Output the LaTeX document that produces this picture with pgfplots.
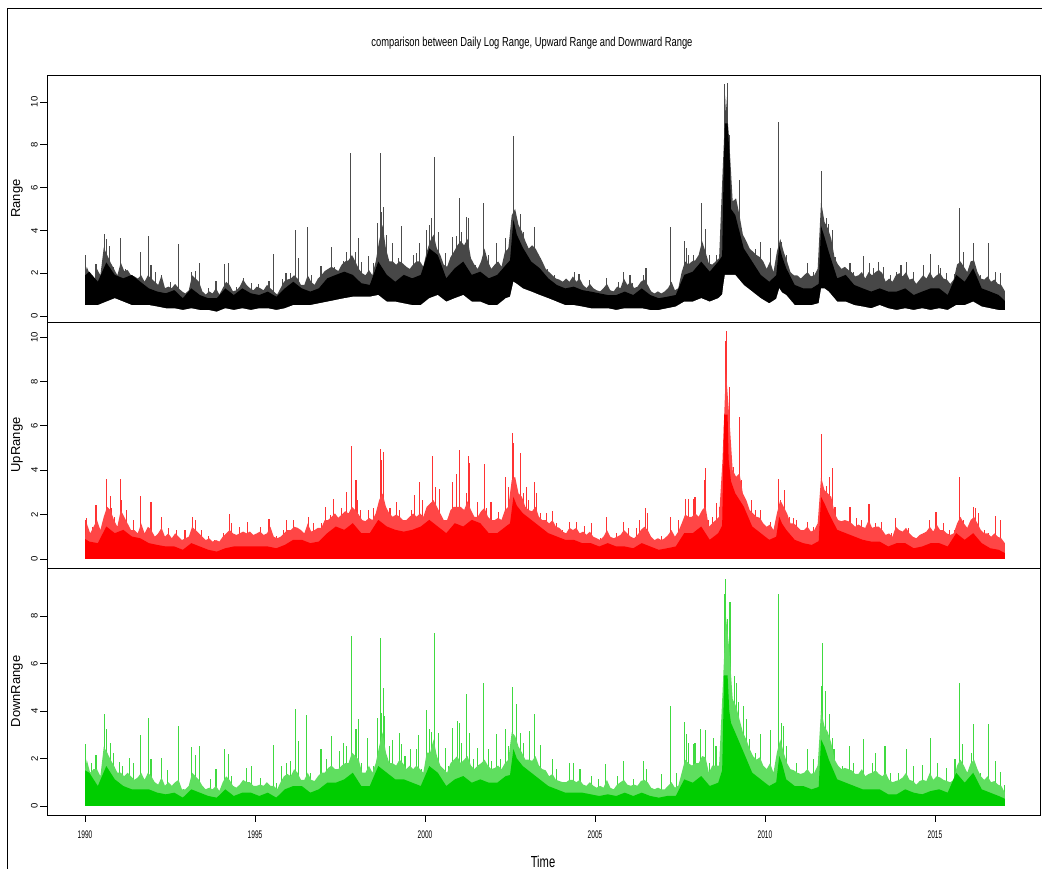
\documentclass[border=0pt]{standalone}
\usepackage{fontspec}
\setmainfont{Liberation Sans}
\usepackage{pgfplots}
\pgfplotsset{compat=1.18}
\usepackage{pgfplotstable}
\definecolor{rgreen}{RGB}{0,205,0}
\definecolor{rgreenl}{RGB}{95,222,95}
\definecolor{redl}{RGB}{255,70,70}

% ---------------- Range (black) : lower / upper edge of the dense band
\pgfplotstableread{
t lo hi
1990.00 0.51 1.90
1990.125 0.51 2.07
1990.375 0.51 1.60
1990.625 0.67 2.50
1990.875 0.83 1.92
1991.125 0.67 1.76
1991.375 0.51 1.92
1991.625 0.51 1.60
1991.875 0.51 1.29
1992.125 0.44 1.14
1992.375 0.36 1.06
1992.625 0.36 1.21
1992.875 0.28 0.83
1993.125 0.36 1.29
1993.375 0.28 0.98
1993.625 0.28 0.83
1993.875 0.20 0.83
1994.125 0.36 1.29
1994.375 0.28 0.98
1994.625 0.36 1.29
1994.875 0.28 1.06
1995.125 0.36 0.98
1995.375 0.36 1.14
1995.625 0.28 0.90
1995.875 0.36 1.29
1996.125 0.51 1.60
1996.375 0.51 1.29
1996.625 0.51 1.14
1996.875 0.59 1.29
1997.125 0.67 1.76
1997.375 0.75 1.92
1997.625 0.83 2.07
1997.875 0.90 1.92
1998.125 0.90 1.53
1998.375 0.90 1.45
1998.625 0.98 2.54
1998.875 0.67 1.92
1999.125 0.67 1.60
1999.375 0.59 1.92
1999.625 0.51 1.76
1999.875 0.51 1.92
2000.125 0.83 3.16
2000.375 0.98 2.85
2000.625 0.67 1.76
2000.875 0.83 2.23
2001.125 0.98 2.54
2001.375 0.67 1.92
2001.625 0.67 2.07
2001.875 0.51 1.76
2002.125 0.51 1.92
2002.375 0.83 2.38
2002.50 0.90 2.60
2002.60 1.60 4.50
2002.70 1.50 3.80
2002.875 1.29 3.20
2003.125 1.14 2.54
2003.375 0.98 2.23
2003.625 0.83 1.76
2003.875 0.67 1.45
2004.125 0.51 1.29
2004.375 0.51 1.37
2004.625 0.44 1.21
2004.875 0.36 1.14
2005.125 0.36 1.06
2005.375 0.36 0.98
2005.625 0.28 0.98
2005.875 0.36 1.14
2006.125 0.36 0.98
2006.375 0.36 1.29
2006.625 0.28 0.98
2006.875 0.28 0.83
2007.125 0.36 0.90
2007.375 0.44 0.98
2007.625 0.67 1.92
2007.875 0.67 2.07
2008.125 0.83 2.54
2008.375 0.67 2.07
2008.625 0.83 2.54
2008.74 1.00 2.80
2008.78 1.50 6.50
2008.82 1.92 9.00
2008.90 1.92 9.00
2008.96 1.92 7.50
2009.00 1.92 5.00
2009.125 1.92 4.72
2009.375 1.45 3.16
2009.625 1.14 2.54
2009.875 0.83 1.92
2010.125 0.59 1.60
2010.33 0.80 1.90
2010.42 1.29 3.30
2010.50 1.10 2.80
2010.625 0.98 2.23
2010.875 0.51 1.45
2011.125 0.51 1.29
2011.375 0.51 1.29
2011.58 0.60 1.50
2011.65 1.29 4.20
2011.75 1.29 3.70
2011.875 1.14 3.00
2012.125 0.67 1.76
2012.375 0.67 1.92
2012.625 0.51 1.45
2012.875 0.44 1.29
2013.125 0.36 1.14
2013.375 0.51 1.29
2013.625 0.36 1.14
2013.875 0.28 1.14
2014.125 0.36 1.29
2014.375 0.28 0.98
2014.625 0.36 1.14
2014.875 0.28 1.29
2015.125 0.36 1.29
2015.375 0.28 0.98
2015.625 0.51 1.92
2015.875 0.51 1.60
2016.125 0.67 2.23
2016.375 0.44 1.29
2016.625 0.36 1.14
2016.875 0.28 0.98
2017.06 0.28 0.70
}\rangebody

% upper fringe of the Range band (grey zone)
\pgfplotstableread{
t f
1990.00 1.90
1990.05 2.30
1990.15 1.90
1990.25 1.50
1990.35 2.20
1990.45 1.90
1990.55 3.20
1990.65 2.85
1990.75 2.50
1990.85 2.20
1990.95 1.90
1991.05 2.50
1991.15 2.10
1991.25 2.15
1991.35 1.90
1991.45 1.85
1991.55 1.75
1991.65 1.90
1991.75 1.60
1991.85 1.90
1991.95 1.75
1992.05 1.60
1992.15 1.45
1992.25 1.90
1992.35 1.30
1992.45 1.37
1992.55 1.30
1992.65 1.50
1992.75 1.30
1992.85 1.15
1992.95 1.05
1993.05 1.20
1993.15 1.90
1993.25 1.75
1993.35 1.60
1993.45 1.15
1993.55 1.00
1993.65 1.15
1993.75 1.05
1993.85 1.30
1993.95 1.00
1994.05 1.30
1994.15 1.60
1994.25 1.45
1994.35 1.15
1994.45 1.20
1994.55 1.37
1994.65 1.70
1994.75 1.45
1994.85 1.30
1994.95 1.20
1995.05 1.37
1995.15 1.30
1995.25 1.20
1995.35 1.45
1995.45 1.30
1995.55 1.15
1995.65 1.00
1995.75 1.30
1995.85 1.60
1995.95 1.70
1996.05 1.75
1996.15 1.90
1996.25 1.75
1996.35 1.45
1996.45 1.45
1996.55 1.90
1996.65 1.60
1996.75 1.45
1996.85 1.75
1996.95 1.90
1997.05 2.10
1997.15 2.20
1997.25 2.30
1997.35 2.20
1997.45 2.10
1997.55 2.40
1997.65 2.55
1997.75 2.60
1997.85 2.85
1997.95 2.55
1998.05 2.20
1998.15 2.00
1998.25 1.90
1998.35 2.15
1998.45 1.90
1998.55 2.55
1998.65 3.50
1998.75 4.25
1998.85 3.15
1998.95 2.55
1999.05 2.55
1999.15 2.40
1999.25 2.55
1999.35 2.45
1999.45 2.30
1999.55 2.20
1999.65 2.40
1999.75 2.55
1999.85 2.55
1999.95 2.30
2000.05 3.00
2000.15 3.50
2000.25 3.80
2000.35 3.15
2000.45 2.85
2000.55 2.40
2000.65 2.30
2000.75 2.75
2000.85 3.00
2000.95 3.30
2001.05 3.50
2001.15 3.30
2001.25 3.60
2001.35 2.70
2001.45 2.40
2001.55 2.20
2001.65 2.55
2001.75 3.15
2001.85 2.55
2001.95 2.20
2002.05 2.40
2002.15 2.55
2002.25 2.30
2002.35 3.00
2002.45 3.15
2002.55 4.70
2002.65 5.00
2002.75 4.25
2002.85 3.95
2002.95 3.50
2003.05 3.15
2003.15 3.30
2003.25 3.15
2003.35 2.85
2003.45 2.55
2003.55 2.20
2003.65 2.05
2003.75 1.90
2003.85 1.75
2003.95 1.70
2004.05 1.60
2004.15 1.75
2004.25 1.60
2004.35 1.85
2004.45 1.60
2004.55 1.75
2004.65 1.45
2004.75 1.30
2004.85 1.50
2004.95 1.30
2005.05 1.20
2005.15 1.15
2005.25 1.30
2005.35 1.50
2005.45 1.20
2005.55 1.15
2005.65 1.37
2005.75 1.30
2005.85 1.75
2005.95 1.45
2006.05 1.60
2006.15 1.30
2006.25 1.37
2006.35 1.60
2006.45 1.70
2006.55 1.45
2006.65 1.15
2006.75 1.05
2006.85 1.15
2006.95 1.05
2007.05 1.15
2007.15 1.30
2007.25 1.60
2007.35 1.20
2007.45 1.30
2007.55 2.05
2007.65 2.55
2007.75 2.40
2007.85 2.55
2007.95 2.60
2008.05 2.85
2008.15 3.50
2008.25 3.00
2008.35 2.45
2008.45 2.40
2008.55 2.55
2008.65 2.70
2008.75 6.60
2008.85 10.30
2008.95 8.15
2009.05 5.35
2009.15 5.50
2009.25 4.70
2009.35 3.80
2009.45 3.50
2009.55 3.15
2009.65 3.00
2009.75 2.85
2009.85 2.75
2009.95 2.55
2010.05 2.20
2010.15 2.55
2010.25 2.05
2010.35 3.00
2010.45 3.60
2010.55 3.00
2010.65 2.55
2010.75 2.05
2010.85 1.90
2010.95 1.90
2011.05 1.75
2011.15 1.90
2011.25 2.05
2011.35 1.85
2011.45 1.90
2011.55 2.20
2011.65 5.35
2011.75 4.40
2011.85 4.10
2011.95 3.60
2012.05 2.70
2012.15 2.40
2012.25 2.20
2012.35 2.30
2012.45 2.15
2012.55 2.05
2012.65 1.85
2012.75 1.90
2012.85 2.05
2012.95 1.75
2013.05 2.05
2013.15 1.90
2013.25 2.05
2013.35 2.15
2013.45 2.00
2013.55 1.60
2013.65 1.75
2013.75 1.60
2013.85 1.90
2013.95 2.00
2014.05 1.85
2014.15 2.05
2014.25 1.70
2014.35 1.75
2014.45 1.50
2014.55 1.70
2014.65 1.90
2014.75 1.75
2014.85 2.05
2014.95 1.75
2015.05 1.90
2015.15 2.00
2015.25 1.75
2015.35 1.70
2015.45 1.50
2015.55 1.70
2015.65 2.40
2015.75 2.55
2015.85 2.30
2015.95 2.05
2016.05 2.55
2016.15 2.60
2016.25 2.05
2016.35 1.75
2016.45 1.70
2016.55 1.85
2016.65 1.60
2016.75 1.70
2016.85 1.50
2016.95 1.45
2017.06 1.15
}\rangefr

\pgfplotstableread{
t v
1990.02 2.85
1990.32 2.43
1990.57 3.82
1990.62 3.60
1990.72 3.29
1990.83 2.31
1991.03 3.63
1991.18 2.18
1991.62 2.98
1991.86 3.72
1991.94 2.38
1992.06 2.07
1992.25 1.92
1992.50 1.60
1992.75 3.36
1993.12 2.04
1993.24 2.10
1993.36 2.46
1993.63 1.29
1993.85 1.64
1994.10 2.43
1994.23 2.46
1994.46 1.34
1994.66 1.76
1994.90 1.53
1995.10 1.48
1995.41 1.65
1995.54 2.88
1995.82 1.73
1995.91 1.99
1996.03 1.99
1996.19 4.02
1996.27 2.73
1996.53 4.14
1996.67 1.92
1996.94 2.35
1997.06 1.88
1997.24 3.21
1997.35 2.31
1997.60 2.57
1997.70 3.01
1997.82 7.60
1997.95 2.98
1998.03 3.63
1998.14 2.54
1998.33 2.82
1998.48 2.46
1998.61 4.33
1998.68 7.60
1998.73 4.88
1998.79 5.09
1998.87 3.78
1999.05 3.40
1999.22 2.69
1999.31 4.21
1999.66 2.85
1999.76 2.93
1999.83 3.40
2000.05 4.02
2000.13 4.25
2000.20 4.56
2000.29 7.45
2000.39 3.94
2000.59 2.96
2000.70 2.31
2000.81 3.71
2000.93 3.74
2001.02 5.53
2001.08 3.91
2001.21 4.64
2001.28 4.56
2001.47 2.38
2001.73 5.30
2001.87 2.85
2002.11 3.40
2002.38 3.66
2002.46 3.16
2002.59 8.43
2002.65 4.88
2002.80 4.75
2002.89 3.94
2003.23 4.14
2003.40 2.69
2003.60 2.20
2003.80 1.90
2004.12 1.60
2004.39 2.04
2004.53 1.95
2004.85 1.68
2005.34 1.76
2005.69 1.57
2005.83 2.04
2006.03 1.92
2006.10 1.53
2006.42 1.92
2006.50 2.26
2007.21 4.14
2007.62 3.52
2007.68 3.16
2007.74 2.85
2007.89 2.85
2008.14 5.26
2008.26 4.05
2008.38 2.85
2008.58 2.85
2008.82 10.83
2008.89 10.87
2008.95 8.46
2009.17 5.34
2009.26 6.36
2009.72 3.12
2009.88 3.47
2010.15 3.19
2010.40 9.08
2010.49 3.47
2010.64 2.85
2011.245 2.46
2011.42 2.07
2011.67 6.79
2011.81 4.56
2011.87 4.28
2011.98 4.02
2012.06 2.77
2012.50 2.46
2012.60 2.07
2012.90 2.82
2013.07 2.46
2013.19 2.26
2013.34 2.51
2013.48 2.31
2013.68 1.92
2013.87 2.07
2014.00 2.38
2014.17 2.51
2014.36 2.07
2014.66 2.38
2014.86 2.88
2015.10 2.38
2015.17 2.26
2015.34 1.99
2015.59 1.95
2015.72 5.06
2015.83 2.98
2016.13 3.40
2016.33 1.92
2016.57 3.43
2016.79 2.04
2016.94 1.99
}\rangespk

% ---------------- UpRange (red)
\pgfplotstableread{
t b
1990.00 0.90
1990.125 0.78
1990.375 0.71
1990.625 1.46
1990.875 1.16
1991.125 1.31
1991.375 1.01
1991.625 0.93
1991.875 0.71
1992.125 0.63
1992.375 0.56
1992.625 0.56
1992.875 0.41
1993.125 0.71
1993.375 0.56
1993.625 0.41
1993.875 0.33
1994.125 0.48
1994.375 0.56
1994.625 0.56
1994.875 0.56
1995.125 0.56
1995.375 0.56
1995.625 0.48
1995.875 0.63
1996.125 0.86
1996.375 0.86
1996.625 0.71
1996.875 0.78
1997.125 1.16
1997.375 1.46
1997.625 1.31
1997.875 1.61
1998.125 1.16
1998.375 1.16
1998.625 1.76
1998.875 1.46
1999.125 1.31
1999.375 1.23
1999.625 1.31
1999.875 1.46
2000.125 1.76
2000.375 1.46
2000.625 1.16
2000.875 1.61
2001.125 1.46
2001.375 1.76
2001.625 1.61
2001.875 1.16
2002.125 1.16
2002.375 1.46
2002.50 1.60
2002.60 2.80
2002.70 2.40
2002.875 2.06
2003.125 1.76
2003.375 1.46
2003.625 1.16
2003.875 1.01
2004.125 0.86
2004.375 0.86
2004.625 0.71
2004.875 0.71
2005.125 0.56
2005.375 0.71
2005.625 0.56
2005.875 0.56
2006.125 0.48
2006.375 0.71
2006.625 0.56
2006.875 0.41
2007.125 0.48
2007.375 0.56
2007.625 1.16
2007.875 1.16
2008.125 1.46
2008.375 0.86
2008.625 1.16
2008.74 1.50
2008.77 4.00
2008.80 6.50
2008.90 6.50
2008.93 4.50
2009.00 3.50
2009.125 2.96
2009.375 2.36
2009.625 1.46
2009.875 1.16
2010.125 0.86
2010.33 1.00
2010.42 1.90
2010.50 1.60
2010.625 1.31
2010.875 0.86
2011.125 0.71
2011.375 0.63
2011.58 0.80
2011.65 2.80
2011.75 2.50
2011.875 2.06
2012.125 1.31
2012.375 1.16
2012.625 1.01
2012.875 0.86
2013.125 0.78
2013.375 0.78
2013.625 0.56
2013.875 0.71
2014.125 0.71
2014.375 0.48
2014.625 0.56
2014.875 0.71
2015.125 0.71
2015.375 0.56
2015.625 1.16
2015.875 0.86
2016.125 1.16
2016.375 0.71
2016.625 0.48
2016.875 0.41
2017.06 0.26
}\upbody

\pgfplotstableread{
t f
1990.00 0.90
1990.05 1.60
1990.15 1.15
1990.25 1.45
1990.35 1.75
1990.45 1.30
1990.55 1.90
1990.65 2.35
1990.75 2.20
1990.85 1.75
1990.95 1.45
1991.05 2.20
1991.15 1.90
1991.25 1.60
1991.35 1.30
1991.45 1.30
1991.55 1.15
1991.65 1.60
1991.75 1.15
1991.85 1.45
1991.95 1.30
1992.05 1.00
1992.15 1.15
1992.25 1.40
1992.35 1.00
1992.45 1.15
1992.55 0.93
1992.65 1.15
1992.75 1.00
1992.85 0.85
1992.95 0.93
1993.05 1.00
1993.15 1.45
1993.25 1.30
1993.35 1.15
1993.45 1.00
1993.55 0.85
1993.65 0.93
1993.75 0.78
1993.85 0.85
1993.95 0.78
1994.05 1.00
1994.15 1.15
1994.25 1.30
1994.35 1.15
1994.45 1.08
1994.55 1.15
1994.65 1.23
1994.75 1.15
1994.85 1.23
1994.95 1.08
1995.05 1.15
1995.15 1.23
1995.25 1.08
1995.35 1.15
1995.45 1.45
1995.55 1.00
1995.65 0.93
1995.75 1.00
1995.85 1.15
1995.95 1.30
1996.05 1.30
1996.15 1.45
1996.25 1.40
1996.35 1.30
1996.45 1.15
1996.55 1.60
1996.65 1.23
1996.75 1.30
1996.85 1.40
1996.95 1.40
1997.05 1.75
1997.15 1.75
1997.25 1.90
1997.35 2.05
1997.45 1.85
1997.55 2.00
1997.65 2.15
1997.75 2.05
1997.85 2.35
1997.95 2.20
1998.05 2.00
1998.15 1.75
1998.25 1.70
1998.35 1.85
1998.45 1.75
1998.55 2.05
1998.65 2.65
1998.75 2.95
1998.85 2.35
1998.95 2.05
1999.05 1.90
1999.15 2.00
1999.25 1.90
1999.35 1.75
1999.45 1.75
1999.55 1.90
1999.65 2.05
1999.75 1.90
1999.85 2.05
1999.95 1.90
2000.05 2.35
2000.15 2.50
2000.25 2.65
2000.35 2.35
2000.45 2.05
2000.55 1.75
2000.65 1.75
2000.75 2.20
2000.85 2.35
2000.95 2.35
2001.05 2.35
2001.15 2.20
2001.25 2.60
2001.35 2.20
2001.45 1.90
2001.55 1.90
2001.65 2.15
2001.75 2.30
2001.85 1.90
2001.95 1.75
2002.05 1.75
2002.15 1.85
2002.25 1.75
2002.35 2.20
2002.45 2.35
2002.55 3.55
2002.65 3.70
2002.75 2.95
2002.85 2.80
2002.95 2.35
2003.05 2.20
2003.15 2.15
2003.25 2.35
2003.35 1.90
2003.45 1.75
2003.55 1.75
2003.65 1.60
2003.75 1.75
2003.85 1.45
2003.95 1.40
2004.05 1.23
2004.15 1.15
2004.25 1.40
2004.35 1.30
2004.45 1.40
2004.55 1.15
2004.65 1.23
2004.75 1.08
2004.85 1.23
2004.95 1.00
2005.05 0.93
2005.15 0.85
2005.25 1.00
2005.35 1.30
2005.45 1.00
2005.55 0.93
2005.65 1.00
2005.75 1.08
2005.85 1.30
2005.95 1.15
2006.05 1.00
2006.15 0.93
2006.25 1.08
2006.35 1.30
2006.45 1.45
2006.55 1.30
2006.65 1.00
2006.75 0.85
2006.85 0.93
2006.95 0.85
2007.05 0.93
2007.15 1.08
2007.25 1.30
2007.35 1.00
2007.45 1.23
2007.55 1.60
2007.65 2.00
2007.75 1.90
2007.85 1.90
2007.95 2.05
2008.05 1.90
2008.15 2.20
2008.25 2.35
2008.35 1.45
2008.45 1.60
2008.55 1.75
2008.65 1.90
2008.75 4.45
2008.85 8.50
2008.95 6.40
2009.05 4.00
2009.15 3.70
2009.25 3.85
2009.35 2.95
2009.45 2.65
2009.55 2.20
2009.65 2.05
2009.75 1.90
2009.85 1.85
2009.95 1.60
2010.05 1.45
2010.15 1.55
2010.25 1.30
2010.35 2.05
2010.45 2.65
2010.55 2.35
2010.65 2.05
2010.75 1.60
2010.85 1.60
2010.95 1.45
2011.05 1.30
2011.15 1.30
2011.25 1.45
2011.35 1.23
2011.45 1.30
2011.55 1.60
2011.65 3.70
2011.75 3.10
2011.85 2.95
2011.95 2.80
2012.05 2.05
2012.15 1.75
2012.25 1.70
2012.35 1.75
2012.45 1.70
2012.55 1.60
2012.65 1.45
2012.75 1.55
2012.85 1.45
2012.95 1.40
2013.05 1.75
2013.15 1.40
2013.25 1.45
2013.35 1.45
2013.45 1.30
2013.55 1.08
2013.65 1.15
2013.75 1.00
2013.85 1.45
2013.95 1.30
2014.05 1.23
2014.15 1.40
2014.25 1.15
2014.35 1.00
2014.45 0.93
2014.55 1.08
2014.65 1.15
2014.75 1.23
2014.85 1.45
2014.95 1.23
2015.05 1.55
2015.15 1.30
2015.25 1.30
2015.35 1.15
2015.45 1.08
2015.55 1.15
2015.65 1.60
2015.75 1.90
2015.85 1.60
2015.95 1.40
2016.05 1.75
2016.15 1.90
2016.25 1.60
2016.35 1.30
2016.45 1.15
2016.55 1.15
2016.65 1.00
2016.75 1.15
2016.85 1.00
2016.95 0.93
2017.06 0.70
}\upfr

\pgfplotstableread{
t v
1990.00 1.76
1990.05 1.83
1990.23 1.46
1990.32 2.43
1990.64 3.60
1990.74 2.84
1990.78 2.28
1990.86 1.91
1991.03 3.60
1991.08 2.66
1991.21 2.21
1991.42 1.76
1991.62 2.84
1991.94 2.58
1992.25 1.88
1992.45 1.38
1992.70 1.31
1992.94 1.31
1993.17 1.88
1993.25 1.76
1993.43 1.31
1993.63 1.01
1993.80 0.86
1994.07 1.16
1994.24 2.03
1994.31 1.61
1994.54 1.46
1994.78 1.68
1995.15 1.46
1995.41 1.80
1995.64 1.01
1995.83 1.31
1995.93 1.76
1996.13 1.76
1996.57 1.91
1996.72 1.61
1996.96 1.61
1997.06 2.36
1997.23 1.98
1997.32 2.69
1997.55 2.28
1997.70 3.03
1997.84 5.11
1997.97 3.56
1998.02 2.66
1998.09 2.21
1998.33 2.21
1998.48 2.28
1998.68 4.94
1998.73 4.46
1998.77 4.83
1998.97 2.28
1999.15 2.58
1999.26 2.21
1999.61 2.21
1999.68 2.88
1999.83 3.45
1999.93 2.66
2000.15 2.51
2000.23 4.64
2000.32 3.26
2000.42 3.14
2000.59 1.76
2000.81 3.45
2000.93 3.81
2001.02 4.91
2001.13 2.13
2001.21 2.96
2001.28 4.64
2001.32 4.31
2001.54 2.58
2001.76 4.28
2001.81 2.28
2001.94 2.58
2002.16 2.13
2002.38 3.71
2002.45 3.26
2002.58 5.66
2002.61 5.24
2002.81 4.76
2002.90 2.96
2002.99 3.26
2003.05 2.66
2003.23 3.45
2003.28 2.96
2003.40 2.06
2003.58 2.06
2003.75 2.16
2003.87 1.61
2004.05 1.31
2004.25 1.68
2004.46 1.68
2004.68 1.49
2004.90 1.61
2005.15 0.93
2005.34 1.91
2005.64 1.16
2005.83 1.68
2005.98 1.38
2006.23 1.38
2006.32 1.76
2006.49 2.28
2006.55 2.06
2006.96 1.01
2007.21 1.91
2007.45 1.76
2007.65 2.70
2007.74 2.69
2007.90 2.70
2007.94 2.81
2008.21 3.56
2008.26 4.10
2008.33 1.76
2008.46 1.91
2008.58 2.51
2008.66 2.36
2008.85 9.83
2008.87 10.28
2008.95 7.73
2009.07 4.16
2009.24 5.74
2009.26 6.41
2009.31 3.56
2009.61 2.66
2009.71 2.21
2009.88 2.21
2010.15 1.68
2010.40 3.60
2010.46 2.66
2010.58 3.11
2010.72 1.91
2010.83 1.83
2010.93 1.76
2011.245 1.68
2011.42 1.46
2011.67 5.62
2011.81 3.30
2011.89 3.71
2011.99 4.08
2012.06 2.36
2012.35 1.68
2012.50 2.36
2012.70 1.83
2012.84 1.76
2013.06 2.46
2013.24 1.61
2013.43 1.68
2013.73 1.16
2013.84 1.83
2014.22 1.38
2014.36 0.86
2014.66 1.16
2014.85 1.76
2015.03 2.13
2015.25 1.61
2015.44 1.31
2015.59 1.31
2015.72 3.68
2015.83 1.76
2016.13 2.36
2016.18 2.28
2016.27 2.06
2016.47 1.31
2016.57 1.16
2016.79 1.94
2016.94 1.76
}\upspk

% ---------------- DownRange (green)
\pgfplotstableread{
t b
1990.00 1.50
1990.125 1.40
1990.375 0.84
1990.625 1.68
1990.875 1.12
1991.125 0.84
1991.375 0.70
1991.625 0.70
1991.875 0.70
1992.125 0.56
1992.375 0.49
1992.625 0.56
1992.875 0.35
1993.125 0.70
1993.375 0.56
1993.625 0.42
1993.875 0.35
1994.125 0.70
1994.375 0.42
1994.625 0.56
1994.875 0.56
1995.125 0.42
1995.375 0.56
1995.625 0.35
1995.875 0.70
1996.125 0.84
1996.375 0.84
1996.625 0.56
1996.875 0.70
1997.125 0.98
1997.375 0.98
1997.625 1.12
1997.875 1.40
1998.125 0.84
1998.375 0.84
1998.625 1.68
1998.875 1.40
1999.125 1.12
1999.375 1.12
1999.625 0.98
1999.875 0.84
2000.125 1.68
2000.375 1.40
2000.625 0.84
2000.875 1.12
2001.125 1.26
2001.375 0.98
2001.625 1.12
2001.875 0.98
2002.125 0.98
2002.375 1.26
2002.50 1.30
2002.60 2.40
2002.70 2.00
2002.875 1.68
2003.125 1.40
2003.375 1.12
2003.625 0.84
2003.875 0.70
2004.125 0.56
2004.375 0.56
2004.625 0.56
2004.875 0.49
2005.125 0.42
2005.375 0.49
2005.625 0.42
2005.875 0.56
2006.125 0.42
2006.375 0.56
2006.625 0.42
2006.875 0.35
2007.125 0.42
2007.375 0.42
2007.625 1.12
2007.875 0.98
2008.125 1.26
2008.375 0.84
2008.625 0.98
2008.74 1.50
2008.77 3.50
2008.80 5.50
2008.90 5.50
2008.95 4.00
2009.00 3.50
2009.125 3.09
2009.375 2.25
2009.625 1.40
2009.875 1.12
2010.125 0.84
2010.33 1.00
2010.42 2.10
2010.50 1.80
2010.625 1.12
2010.875 0.84
2011.125 0.84
2011.375 0.70
2011.58 0.80
2011.65 2.80
2011.75 2.50
2011.875 1.96
2012.125 1.12
2012.375 0.98
2012.625 0.84
2012.875 0.70
2013.125 0.70
2013.375 0.70
2013.625 0.49
2013.875 0.49
2014.125 0.70
2014.375 0.56
2014.625 0.49
2014.875 0.63
2015.125 0.70
2015.375 0.56
2015.625 1.40
2015.875 0.98
2016.125 1.40
2016.375 0.70
2016.625 0.56
2016.875 0.42
2017.06 0.30
}\dnbody

\pgfplotstableread{
t f
1990.00 1.50
1990.05 1.95
1990.15 1.40
1990.25 1.55
1990.35 1.55
1990.45 1.25
1990.55 2.50
1990.65 2.25
1990.75 1.95
1990.85 1.70
1990.95 1.40
1991.05 1.40
1991.15 1.25
1991.25 1.40
1991.35 1.25
1991.45 1.10
1991.55 1.20
1991.65 1.40
1991.75 1.10
1991.85 1.40
1991.95 1.25
1992.05 1.00
1992.15 0.90
1992.25 1.20
1992.35 0.85
1992.45 1.00
1992.55 0.85
1992.65 1.00
1992.75 1.10
1992.85 0.70
1992.95 0.70
1993.05 0.85
1993.15 1.40
1993.25 1.25
1993.35 1.10
1993.45 0.85
1993.55 0.70
1993.65 0.77
1993.75 0.70
1993.85 0.85
1993.95 0.63
1994.05 1.00
1994.15 1.25
1994.25 1.10
1994.35 0.85
1994.45 0.77
1994.55 0.90
1994.65 1.10
1994.75 1.00
1994.85 1.00
1994.95 0.85
1995.05 0.85
1995.15 0.90
1995.25 0.85
1995.35 1.00
1995.45 0.85
1995.55 0.85
1995.65 0.70
1995.75 1.00
1995.85 1.25
1995.95 1.35
1996.05 1.25
1996.15 1.55
1996.25 1.40
1996.35 1.10
1996.45 1.10
1996.55 1.40
1996.65 1.10
1996.75 1.05
1996.85 1.25
1996.95 1.40
1997.05 1.40
1997.15 1.60
1997.25 1.70
1997.35 1.55
1997.45 1.55
1997.55 1.70
1997.65 1.80
1997.75 1.80
1997.85 2.25
1997.95 2.10
1998.05 1.95
1998.15 1.40
1998.25 1.40
1998.35 1.70
1998.45 1.40
1998.55 1.80
1998.65 2.50
1998.75 3.10
1998.85 2.25
1998.95 1.80
1999.05 1.80
1999.15 1.70
1999.25 1.95
1999.35 1.80
1999.45 1.55
1999.55 1.70
1999.65 1.55
1999.75 1.70
1999.85 1.55
1999.95 1.40
2000.05 2.25
2000.15 2.25
2000.25 2.80
2000.35 2.10
2000.45 1.70
2000.55 1.55
2000.65 1.40
2000.75 1.80
2000.85 1.95
2000.95 2.10
2001.05 1.80
2001.15 1.95
2001.25 2.10
2001.35 1.70
2001.45 1.55
2001.55 1.70
2001.65 1.80
2001.75 1.95
2001.85 1.70
2001.95 1.55
2002.05 1.60
2002.15 1.70
2002.25 1.55
2002.35 1.80
2002.45 1.95
2002.55 3.10
2002.65 2.95
2002.75 2.50
2002.85 2.25
2002.95 1.95
2003.05 1.95
2003.15 1.90
2003.25 2.10
2003.35 1.70
2003.45 1.55
2003.55 1.50
2003.65 1.25
2003.75 1.35
2003.85 1.10
2003.95 1.05
2004.05 1.00
2004.15 1.00
2004.25 1.10
2004.35 1.10
2004.45 1.00
2004.55 1.10
2004.65 0.90
2004.75 0.85
2004.85 1.00
2004.95 0.85
2005.05 0.77
2005.15 0.85
2005.25 0.77
2005.35 1.10
2005.45 0.77
2005.55 0.70
2005.65 0.90
2005.75 1.00
2005.85 1.10
2005.95 0.90
2006.05 0.85
2006.15 0.90
2006.25 0.85
2006.35 1.05
2006.45 1.10
2006.55 1.00
2006.65 0.77
2006.75 0.70
2006.85 0.77
2006.95 0.70
2007.05 0.70
2007.15 0.85
2007.25 1.00
2007.35 0.77
2007.45 0.85
2007.55 1.40
2007.65 1.95
2007.75 1.80
2007.85 1.70
2007.95 1.80
2008.05 1.80
2008.15 2.10
2008.25 2.05
2008.35 1.40
2008.45 1.70
2008.55 1.70
2008.65 1.70
2008.75 4.75
2008.85 8.00
2008.95 6.60
2009.05 4.50
2009.15 4.20
2009.25 3.65
2009.35 3.10
2009.45 2.80
2009.55 2.40
2009.65 2.10
2009.75 1.95
2009.85 2.05
2009.95 1.70
2010.05 1.55
2010.15 1.80
2010.25 1.40
2010.35 2.25
2010.45 2.80
2010.55 2.25
2010.65 1.80
2010.75 1.55
2010.85 1.50
2010.95 1.40
2011.05 1.35
2011.15 1.40
2011.25 1.55
2011.35 1.35
2011.45 1.40
2011.55 1.70
2011.65 4.05
2011.75 3.35
2011.85 3.10
2011.95 2.65
2012.05 1.95
2012.15 1.70
2012.25 1.55
2012.35 1.60
2012.45 1.55
2012.55 1.50
2012.65 1.35
2012.75 1.35
2012.85 1.55
2012.95 1.25
2013.05 1.35
2013.15 1.40
2013.25 1.50
2013.35 1.35
2013.45 1.25
2013.55 1.40
2013.65 1.10
2013.75 1.00
2013.85 1.05
2013.95 1.10
2014.05 1.20
2014.15 1.40
2014.25 1.10
2014.35 1.05
2014.45 0.90
2014.55 1.05
2014.65 1.10
2014.75 1.05
2014.85 1.40
2014.95 1.10
2015.05 1.25
2015.15 1.20
2015.25 1.10
2015.35 1.05
2015.45 1.00
2015.55 1.10
2015.65 1.70
2015.75 1.95
2015.85 1.70
2015.95 1.40
2016.05 1.80
2016.15 1.95
2016.25 1.55
2016.35 1.25
2016.45 1.10
2016.55 1.25
2016.65 1.00
2016.75 1.05
2016.85 0.90
2016.95 0.85
2017.06 0.55
}\dnfr

\pgfplotstableread{
t v
1990.02 2.62
1990.20 1.82
1990.32 2.13
1990.57 3.86
1990.62 3.23
1990.74 2.67
1990.83 2.25
1991.01 1.85
1991.11 1.68
1991.32 2.04
1991.42 1.82
1991.62 2.99
1991.86 3.72
1991.94 1.96
1992.25 2.04
1992.42 1.52
1992.75 3.37
1992.89 0.70
1993.12 2.50
1993.24 2.13
1993.36 2.53
1993.68 1.12
1993.85 1.54
1994.10 2.39
1994.23 2.18
1994.31 1.26
1994.74 1.61
1994.90 1.68
1995.15 1.19
1995.54 2.55
1995.64 0.98
1995.78 1.68
1995.93 1.82
1996.03 1.89
1996.20 4.07
1996.27 2.74
1996.52 3.83
1996.62 1.40
1996.94 2.39
1997.11 1.96
1997.24 2.95
1997.48 2.32
1997.60 2.67
1997.70 2.53
1997.83 7.16
1997.97 3.23
1998.03 3.65
1998.14 1.82
1998.32 2.88
1998.48 1.68
1998.61 3.72
1998.68 7.09
1998.73 3.93
1998.77 4.98
1998.82 3.79
1998.95 2.53
1999.05 2.78
1999.24 3.09
1999.31 2.60
1999.41 2.11
1999.58 2.41
1999.75 2.39
1999.80 2.98
1999.90 1.54
2000.05 4.04
2000.13 3.23
2000.20 3.13
2000.29 7.30
2000.39 3.09
2000.59 2.46
2000.69 1.68
2000.81 3.30
2000.95 3.58
2001.02 3.48
2001.08 2.67
2001.21 4.70
2001.32 3.09
2001.42 1.96
2001.54 2.46
2001.73 5.19
2001.87 2.39
2001.96 1.89
2002.11 3.02
2002.21 1.96
2002.38 3.23
2002.46 2.53
2002.58 5.01
2002.70 4.28
2002.81 3.09
2002.89 2.67
2003.08 3.16
2003.23 3.86
2003.40 2.55
2003.75 1.99
2003.87 1.54
2004.26 1.82
2004.38 1.82
2004.56 1.54
2004.90 1.26
2005.10 1.12
2005.32 1.75
2005.66 1.26
2005.83 1.89
2006.13 1.12
2006.42 1.89
2006.52 1.54
2006.96 1.33
2007.21 4.21
2007.40 1.40
2007.62 3.54
2007.68 3.02
2007.74 2.67
2007.89 2.60
2007.94 2.67
2008.10 3.26
2008.26 3.19
2008.38 1.82
2008.48 2.88
2008.56 2.53
2008.68 2.46
2008.80 8.91
2008.84 9.57
2008.89 7.86
2008.97 8.59
2009.10 5.47
2009.15 5.19
2009.22 4.38
2009.36 4.21
2009.46 3.65
2009.54 2.81
2009.71 2.25
2009.87 3.02
2010.15 3.19
2010.40 8.91
2010.49 3.51
2010.54 3.37
2010.64 2.53
2010.93 1.82
2011.245 2.41
2011.42 1.96
2011.65 5.05
2011.68 6.85
2011.79 4.84
2011.91 3.89
2011.99 2.88
2012.03 2.39
2012.28 1.68
2012.48 2.53
2012.60 1.82
2012.90 2.84
2013.17 1.82
2013.24 2.25
2013.53 2.53
2013.68 1.40
2013.92 1.40
2014.17 2.41
2014.36 1.68
2014.64 1.71
2014.86 2.88
2015.08 1.82
2015.34 1.61
2015.59 1.99
2015.72 5.16
2015.82 2.60
2016.08 2.25
2016.13 3.44
2016.33 1.40
2016.57 3.44
2016.77 1.89
2016.93 1.45
2017.05 0.88
}\dnspk

\pgfplotsset{panel/.style={
  scale only axis, width=993pt,
  xmin=1988.88, xmax=2018.09,
  axis line style={line width=0.9pt},
  every tick/.style={black, line width=0.7pt},
  tick align=outside, major tick length=7pt,
  xtick pos=bottom, ytick pos=left,
  yticklabel style={rotate=90, anchor=south, font=\fontsize{9.5}{11}\selectfont, inner sep=2pt},
  /pgf/number format/assume math mode=true,
  ylabel style={at={(axis description cs:-0.0302,0.5)}, anchor=center, font=\fontsize{13}{15}\selectfont},
  axis on top,
}}

\begin{document}
\begin{tikzpicture}
\useasboundingbox (0,0) rectangle (1042pt,869pt);
\draw[line width=0.9pt] (7pt,0) -- (7pt,861pt) -- (1042pt,861pt);

% ---------- top panel: Range
\begin{axis}[panel, at={(47pt,547pt)}, anchor=south west, height=247pt,
  ymin=-0.28, ymax=11.26, ytick={0,2,4,6,8,10}, xtick=\empty,
  ylabel={Range}]
\addplot[ycomb, black!70, line width=1.1pt, mark=none] table[x=t,y=v]{\rangespk};
\addplot[fill=black!72, draw=none] table[x=t,y=f]{\rangefr} \closedcycle;
\addplot[fill=black, draw=none] table[x=t,y=hi]{\rangebody} \closedcycle;
\addplot[fill=white, draw=none] table[x=t,y=lo]{\rangebody} \closedcycle;
\end{axis}

% ---------- middle panel: UpRange
\begin{axis}[panel, at={(47pt,301pt)}, anchor=south west, height=246pt,
  ymin=-0.41, ymax=10.68, ytick={0,2,4,6,8,10}, xtick=\empty,
  ylabel={UpRange}]
\addplot[ycomb, red!80!white, line width=1.1pt, mark=none] table[x=t,y=v]{\upspk};
\addplot[fill=redl, draw=none] table[x=t,y=f]{\upfr} \closedcycle;
\addplot[fill=red, draw=none] table[x=t,y=b]{\upbody} \closedcycle;
\end{axis}

% ---------- bottom panel: DownRange
\begin{axis}[panel, at={(47pt,54pt)}, anchor=south west, height=247pt,
  ymin=-0.38, ymax=10.02, ytick={0,2,4,6,8},
  xtick={1990,1995,2000,2005,2010,2015},
  xticklabels={\scalebox{0.6}[1]{1990},\scalebox{0.6}[1]{1995},\scalebox{0.6}[1]{2000},\scalebox{0.6}[1]{2005},\scalebox{0.6}[1]{2010},\scalebox{0.6}[1]{2015}},
  xticklabel style={font=\fontsize{11}{13}\selectfont, yshift=-5pt},
  ylabel={DownRange},
  xlabel={\scalebox{0.7}[1]{Time}},
  xlabel style={at={(axis description cs:0.4995,-0.19)}, anchor=center, font=\fontsize{16}{18}\selectfont}]
\addplot[ycomb, rgreen!75!white, line width=1.1pt, mark=none] table[x=t,y=v]{\dnspk};
\addplot[fill=rgreenl, draw=none] table[x=t,y=f]{\dnfr} \closedcycle;
\addplot[fill=rgreen, draw=none] table[x=t,y=b]{\dnbody} \closedcycle;
\end{axis}

\node[font=\fontsize{13}{15}\selectfont] at (532pt,826pt) {\scalebox{0.72}[1]{comparison between Daily Log Range, Upward Range and Downward Range}};
\end{tikzpicture}
\end{document}
